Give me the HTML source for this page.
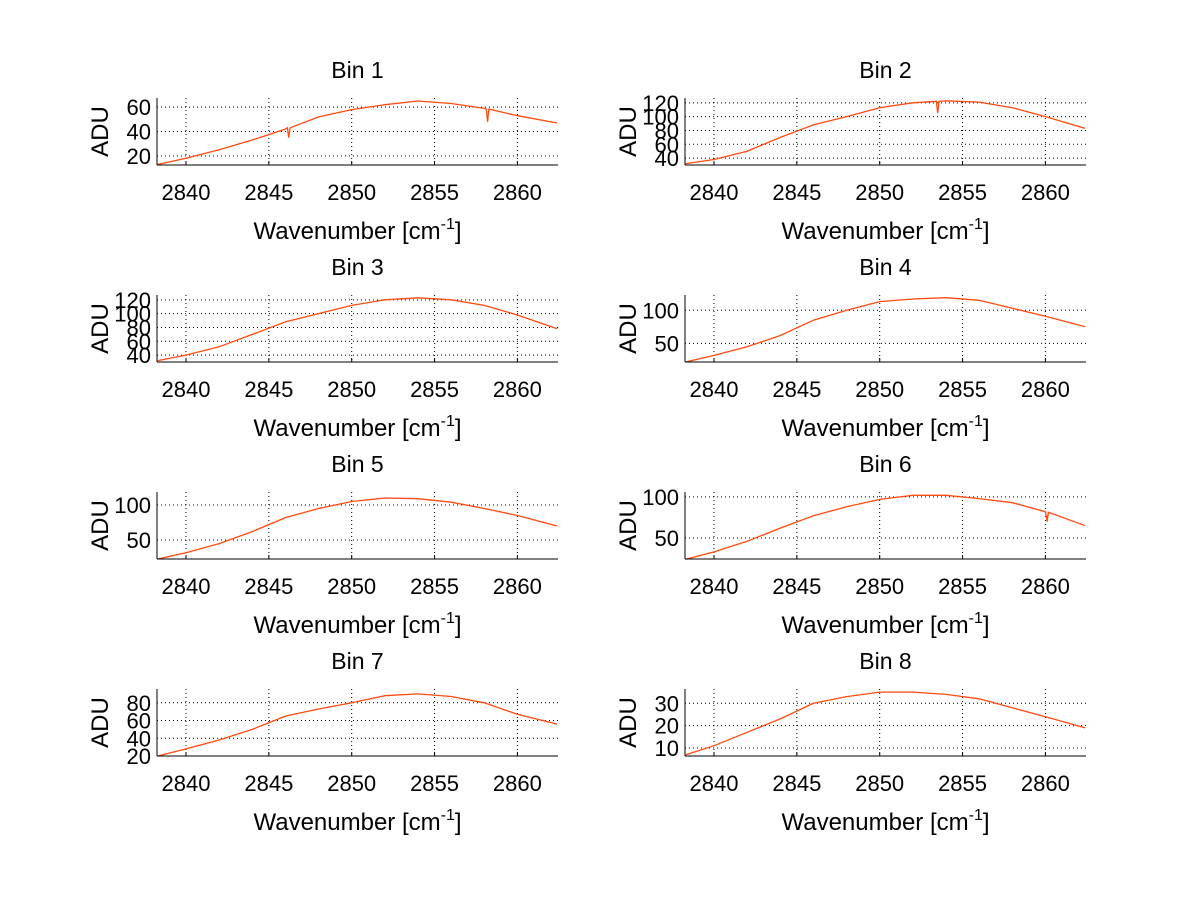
<!DOCTYPE html>
<html><head><meta charset="utf-8"><style>
body{margin:0;background:#fff;}
svg{display:block;font-family:"Liberation Sans",sans-serif;}
</style></head><body>
<svg id="fig" width="1200" height="901"></svg>
<script>
const titles = ["Bin 1","Bin 2","Bin 3","Bin 4","Bin 5","Bin 6","Bin 7","Bin 8"];
const xTicks = [2840,2845,2850,2855,2860];
const xMin = 2838.25, xMax = 2862.45;
const wn = [2838.3,2840,2842,2844,2846,2848,2850,2852,2854,2856,2858,2860,2862.4];
const bin1 = [13,18,25,33,42,52,58,62,65,63,59,53,47];
const bin2 = [32,38,50,70,88,100,113,120,123,121,113,100,83];
const bin3 = [32,40,52,70,88,100,112,120,123,120,112,98,78];
const bin4 = [22,32,45,62,85,100,113,117,119,115,103,91,75];
const bin5 = [23,32,45,62,82,95,105,110,109,104,95,85,70];
const bin6 = [24,33,46,62,77,88,97,102,102,98,93,82,65];
const bin7 = [20,28,38,50,65,73,80,88,90,87,80,67,56];
const bin8 = [7,11,17,23,30,33,35,35,34,32,28,24,19];
const dipX = [[2846.2,2858.2],[2853.5],[],[],[],[2860.1],[],[]];
const dipY = [[35,48],[105],[],[],[],[70],[],[]];
const series = [bin1,bin2,bin3,bin4,bin5,bin6,bin7,bin8];
const yLims = [[12.5,67.5],[30,127],[30,127],[22,123],[23,118.5],[24.4,106],[20,95.5],[6.4,36.4]];
const yTicks = [[20,40,60],[40,60,80,100,120],[40,60,80,100,120],[50,100],[50,100],[50,100],[20,40,60,80],[10,20,30]];

const NS="http://www.w3.org/2000/svg";
const svg=document.getElementById('fig');
function mk(tag,attrs,parent){const e=document.createElementNS(NS,tag);for(const k in attrs)e.setAttribute(k,attrs[k]);(parent||svg).appendChild(e);return e;}
function interp(xs,ys,x){for(let i=0;i<xs.length-1;i++){if(x>=xs[i]&&x<=xs[i+1]){const t=(x-xs[i])/(xs[i+1]-xs[i]);return ys[i]+t*(ys[i+1]-ys[i]);}}return ys[ys.length-1];}

for(let b=0;b<8;b++){
  const col=b%2,row=Math.floor(b/2);
  const L=col?685:157,R=col?1086:558,T=98+197*row,B=165+197*row;
  const g=mk('g',{});
  
  
  const sx=x=>L+(x-xMin)/(xMax-xMin)*(R-L);
  const [y0,y1]=yLims[b];
  const sy=y=>B-(y-y0)/(y1-y0)*(B-T);
  xTicks.forEach(t=>{
    const l=mk('line',{x1:sx(t),x2:sx(t),y1:T,y2:B,stroke:'#000','stroke-width':1,'stroke-dasharray':'1,3'},g);
    
    
    mk('line',{x1:sx(t),x2:sx(t),y1:B,y2:B-4,stroke:'#000'},g);
    const tx=mk('text',{x:sx(t),y:B+35,'font-size':22,'text-anchor':'middle'},g);
    tx.textContent=t;
    
    
  });
  yTicks[b].forEach(t=>{
    const l=mk('line',{x1:L,x2:R,y1:sy(t),y2:sy(t),stroke:'#000','stroke-width':1,'stroke-dasharray':'1,3'},g);
    
    
    const tx=mk('text',{x:L-6,y:sy(t)+8,'font-size':22,'text-anchor':'end'},g);
    tx.textContent=t;
    
    
  });
  let pts=wn.map((x,i)=>[x,series[b][i]]);
  dipX[b].forEach((dx,i)=>{const base=interp(wn,series[b],dx);pts.push([dx-0.08,base],[dx,dipY[b][i]],[dx+0.08,base]);});
  pts.sort((a,c)=>a[0]-c[0]);
  const line=mk('polyline',{points:pts.map(p=>sx(p[0]).toFixed(1)+','+sy(p[1]).toFixed(1)).join(' '),fill:'none',stroke:'#ff4a10','stroke-width':1.3},g);
  
  
  mk('line',{x1:L,x2:R,y1:B,y2:B,stroke:'#000'},g);
  mk('line',{x1:L,x2:L,y1:T,y2:B,stroke:'#000'},g);
  const ti=mk('text',{x:(L+R)/2,y:T-20,'font-size':23,'text-anchor':'middle'},g);
  ti.textContent=titles[b];
  
  
  const xl=mk('text',{x:(L+R)/2,y:B+74,'font-size':24,'text-anchor':'middle'},g);
  xl.innerHTML='Wavenumber [cm<tspan dy="-10" font-size="16">-1</tspan><tspan dy="10">]</tspan>';
  
  
  const yl=mk('text',{x:0,y:0,'font-size':24,'text-anchor':'middle',transform:`translate(${L-49},${(T+B)/2}) rotate(-90)`},g);
  yl.textContent='ADU';
  
  
}
</script>
</body></html>
